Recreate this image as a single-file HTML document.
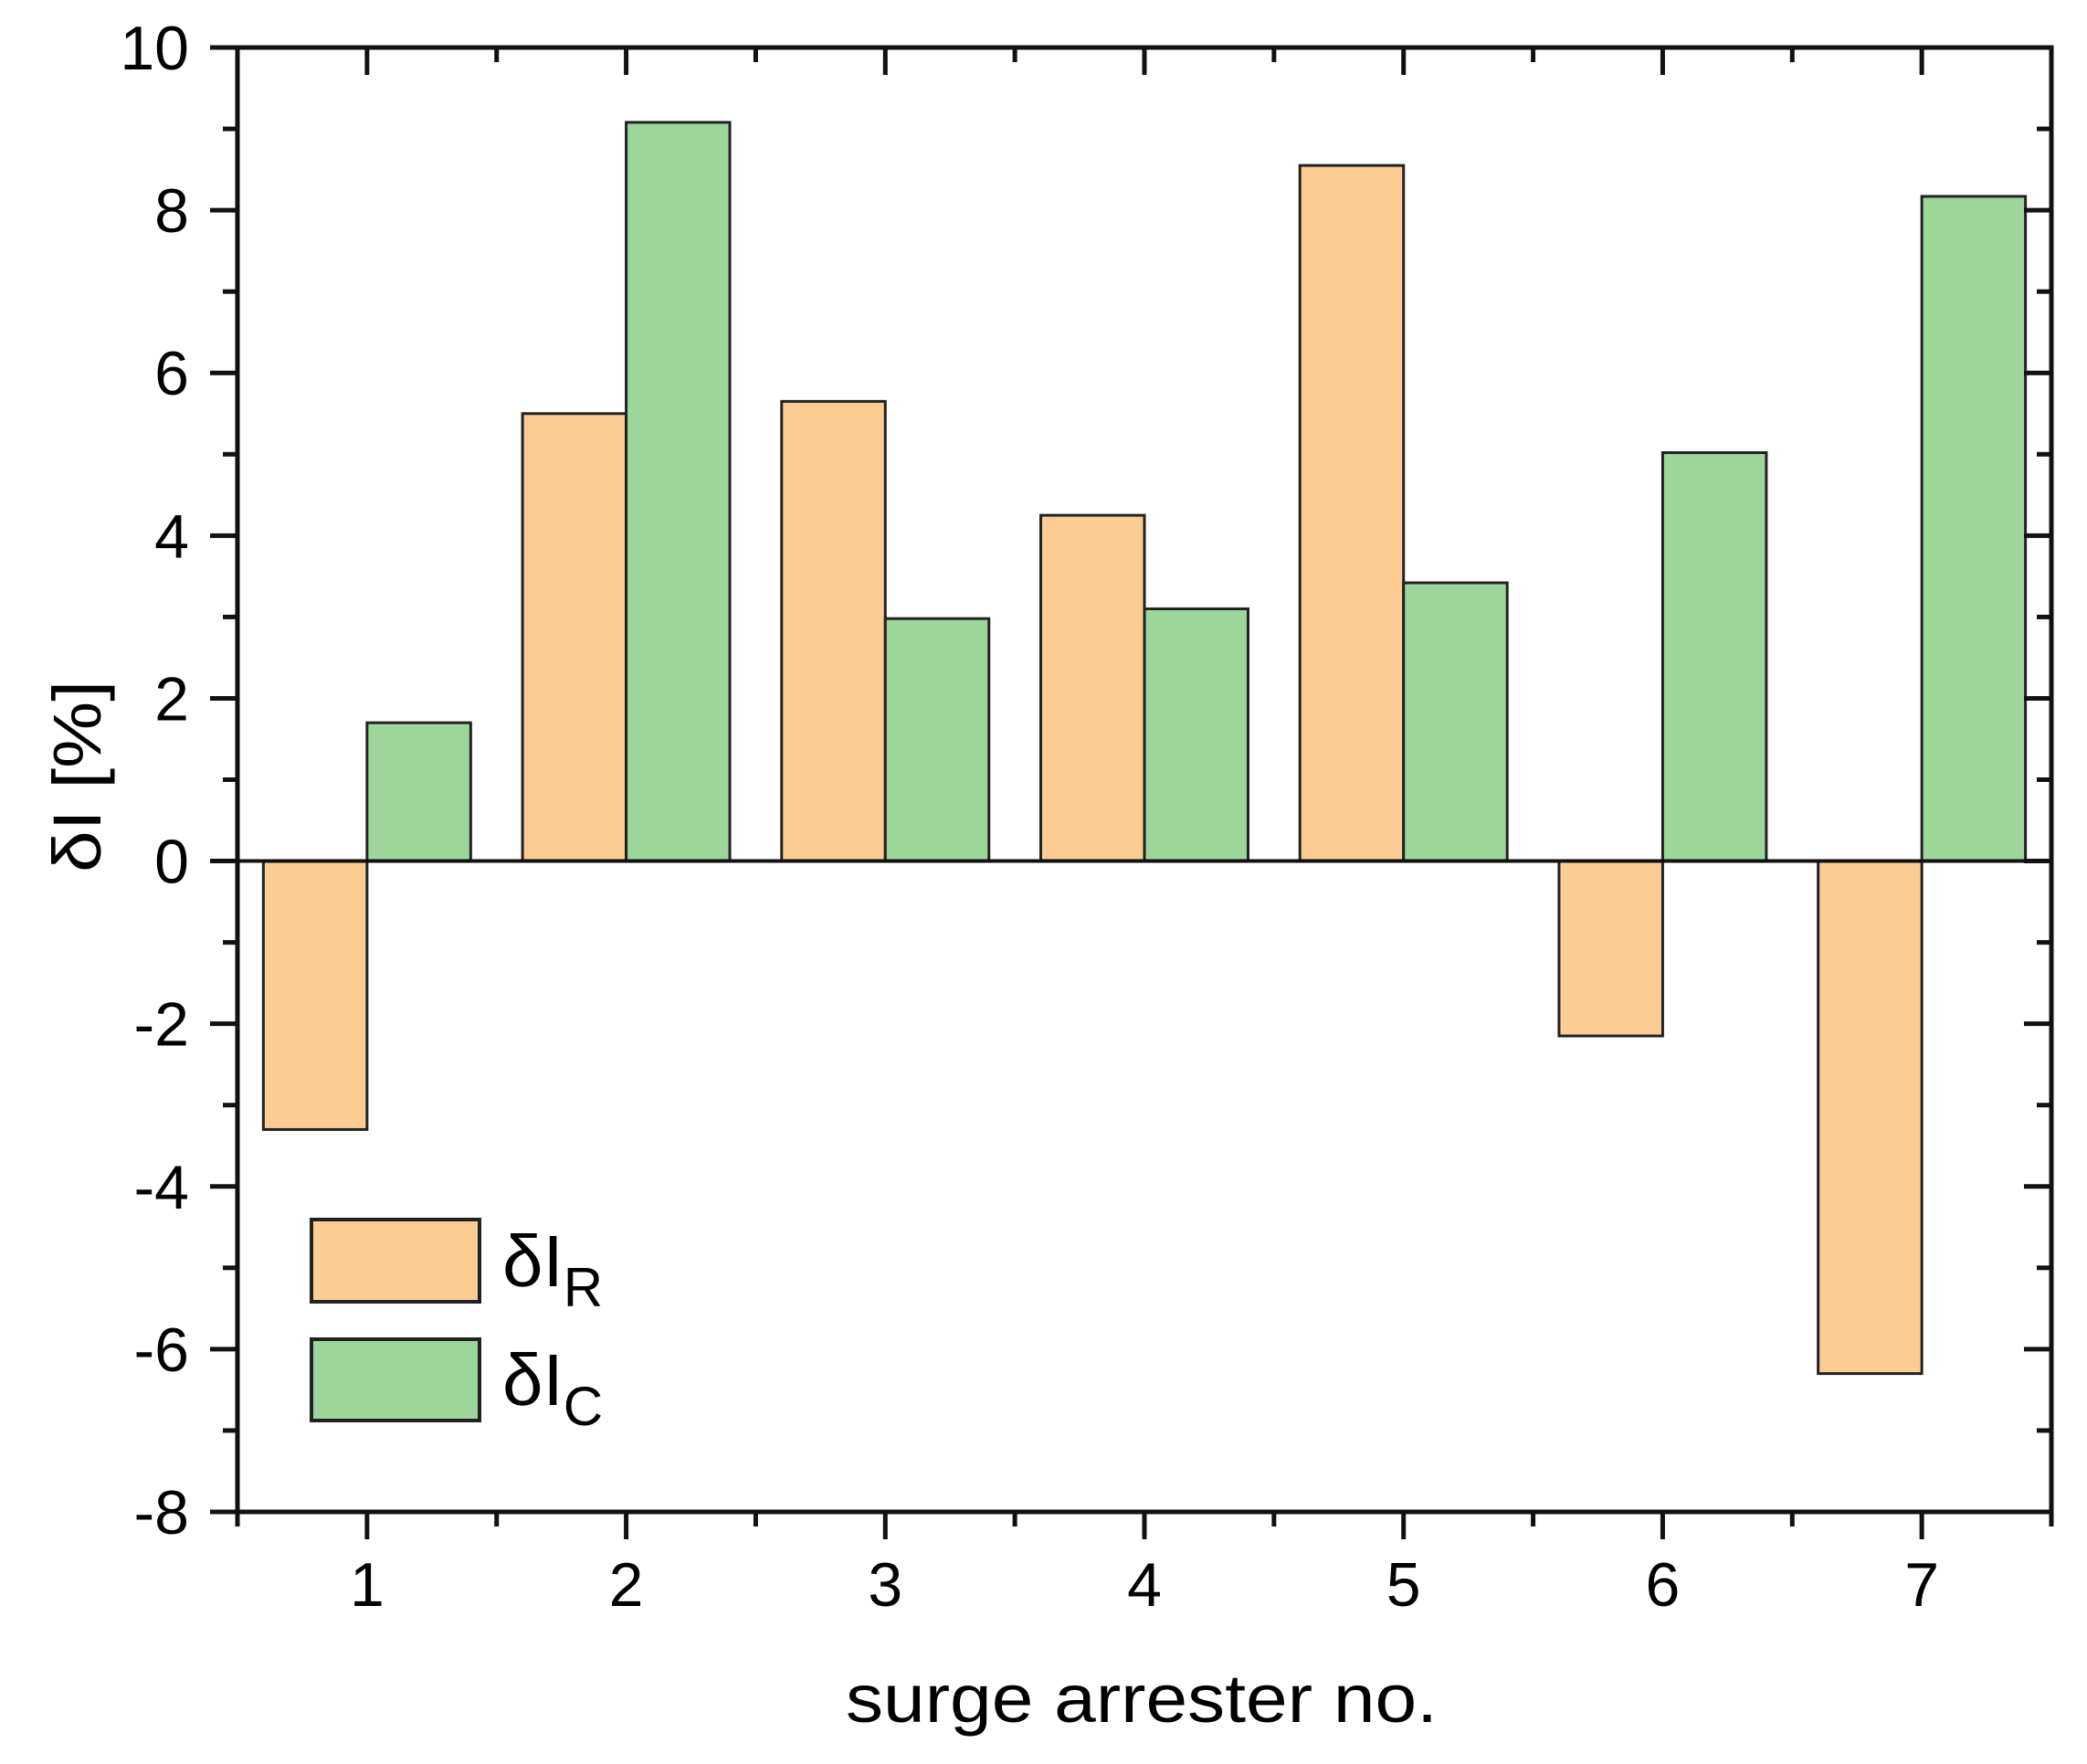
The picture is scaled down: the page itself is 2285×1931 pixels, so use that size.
<!DOCTYPE html>
<html><head><meta charset="utf-8"><style>
html,body{margin:0;padding:0;background:#fff;}
svg{display:block;font-family:"Liberation Sans",Arial,sans-serif;}
</style></head><body>
<svg id="chart" width="2285" height="1931" viewBox="0 0 2285 1931" xmlns="http://www.w3.org/2000/svg">
<g id="bars"></g>
<g id="axes"></g>
<g id="legend">
  <rect x="341" y="1335" width="184" height="90" fill="#fdcc93" stroke="#222" stroke-width="4"/>
  <text x="550" y="1408" font-size="80">δI<tspan font-size="60" dy="22">R</tspan></text>
  <rect x="341" y="1466" width="184" height="89" fill="#9dd69b" stroke="#222" stroke-width="4"/>
  <text x="550" y="1538" font-size="80">δI<tspan font-size="60" dy="22">C</tspan></text>
</g>
<text x="1250" y="1885" font-size="74" text-anchor="middle" textLength="648" lengthAdjust="spacingAndGlyphs">surge arrester no.</text>
<text transform="translate(110,850) rotate(-90)" font-size="74" text-anchor="middle" textLength="210" lengthAdjust="spacingAndGlyphs">δI [%]</text>
</svg>
<script>
const categories = [1, 2, 3, 4, 5, 6, 7];
const seriesIR = [-3.3, 5.5, 5.65, 4.25, 8.55, -2.15, -6.3];
const seriesIC = [1.7, 9.08, 2.98, 3.1, 3.42, 5.02, 8.17];
const yTicks = [10, 8, 6, 4, 2, 0, -2, -4, -6, -8];
const yTickLabels = ["10", "8", "6", "4", "2", "0", "-2", "-4", "-6", "-8"];

const NS = "http://www.w3.org/2000/svg";
const L = 260, R = 2246, T = 52, B = 1655;
const xMin = 0.5, xMax = 7.5, yMin = -8, yMax = 10;
function xs(v){ return L + (v - xMin) / (xMax - xMin) * (R - L); }
function ys(v){ return B - (v - yMin) / (yMax - yMin) * (B - T); }
function mk(tag, attrs, parent){
  const e = document.createElementNS(NS, tag);
  for (const k in attrs) e.setAttribute(k, attrs[k]);
  parent.appendChild(e);
  return e;
}
const barsG = document.getElementById('bars');
const axesG = document.getElementById('axes');
const bw = 0.4;
categories.forEach((c, i) => {
  const v1 = seriesIR[i], v2 = seriesIC[i];
  const r1 = mk('rect', {x: xs(c - bw), y: Math.min(ys(v1), ys(0)), width: xs(c) - xs(c - bw), height: Math.abs(ys(v1) - ys(0)), fill: '#fdcc93', stroke: '#222', 'stroke-width': 3}, barsG);
  
  
  const r2 = mk('rect', {x: xs(c), y: Math.min(ys(v2), ys(0)), width: xs(c + bw) - xs(c), height: Math.abs(ys(v2) - ys(0)), fill: '#9dd69b', stroke: '#222', 'stroke-width': 3}, barsG);
  
  
});
const zl = mk('line', {x1: L, x2: R, y1: ys(0), y2: ys(0), stroke: '#111', 'stroke-width': 4}, axesG);


const fr = mk('rect', {x: L, y: T, width: R - L, height: B - T, fill: 'none', stroke: '#111', 'stroke-width': 5}, axesG);


for (let v = yMin; v <= yMax; v++) {
  const major = v % 2 === 0;
  const len = major ? 30 : 16;
  const y = ys(v);
  mk('line', {x1: L - len, x2: L, y1: y, y2: y, stroke: '#111', 'stroke-width': 5}, axesG);
  mk('line', {x1: R - len, x2: R, y1: y, y2: y, stroke: '#111', 'stroke-width': 5}, axesG);
}
yTicks.forEach((v, i) => {
  const t = mk('text', {x: 207, y: ys(v) + 24, 'font-size': 68, 'text-anchor': 'end'}, axesG);
  t.textContent = yTickLabels[i];
  
  
});
for (let k = 0; k <= 14; k++) {
  const v = xMin + k * 0.5;
  const major = Number.isInteger(v);
  const len = major ? 30 : 16;
  const x = xs(v);
  mk('line', {x1: x, x2: x, y1: B, y2: B + len, stroke: '#111', 'stroke-width': 5}, axesG);
  mk('line', {x1: x, x2: x, y1: T, y2: T + len, stroke: '#111', 'stroke-width': 5}, axesG);
}
categories.forEach(c => {
  const t = mk('text', {x: xs(c), y: 1758, 'font-size': 68, 'text-anchor': 'middle'}, axesG);
  t.textContent = String(c);
  
  
});
</script>
</body></html>
